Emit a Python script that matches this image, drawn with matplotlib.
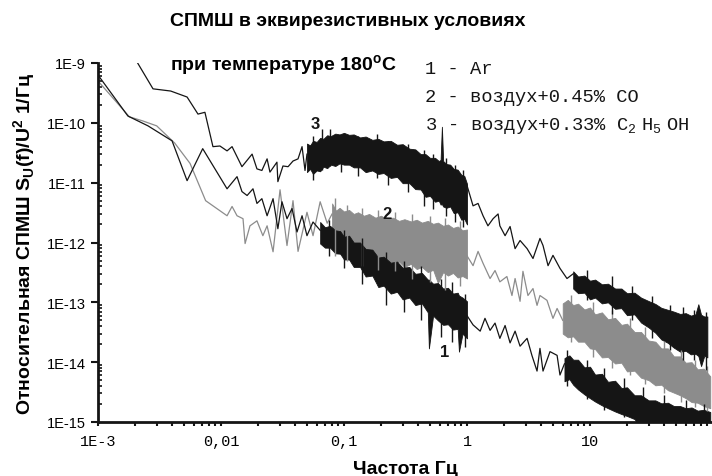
import matplotlib
matplotlib.use("Agg")
import matplotlib.pyplot as plt
from matplotlib.ticker import FixedLocator, FixedFormatter, LogLocator, NullFormatter

# ---------------- data ----------------
# curve 1: Ar
f1_lo = [0.001, 0.00175, 0.00255, 0.0040, 0.0053, 0.0071, 0.0112, 0.0135, 0.0148, 0.0163,
         0.0182, 0.0196, 0.0215, 0.0237, 0.0265, 0.029, 0.0313, 0.0344, 0.0378, 0.0415,
         0.0456, 0.050, 0.056, 0.064]
s1_lo = [6.3e-10, 1.3e-10, 8.9e-11, 5.0e-11, 1.08e-11, 3.7e-11, 7.9e-12, 1.26e-11, 7.1e-12, 6.1e-12,
         7.9e-12, 4.5e-12, 5.4e-12, 2.8e-12, 5.4e-12, 1.7e-12, 4.8e-12, 2.5e-12, 3.7e-12, 1.5e-12,
         2.8e-12, 1.3e-12, 2.2e-12, 1.6e-12]
f1_mid = [0.064, 0.07, 0.077, 0.085, 0.093, 0.10, 0.11, 0.12, 0.135, 0.15, 0.17, 0.19, 0.21, 0.24,
          0.27, 0.30, 0.34, 0.38, 0.43, 0.48, 0.49, 0.53, 0.58, 0.64, 0.70, 0.77, 0.84, 0.86, 0.92, 1.0]
s1_mid_hi = [2.2e-12, 1.8e-12, 1.9e-12, 1.6e-12, 1.55e-12, 1.25e-12, 1.3e-12, 1.0e-12, 1.0e-12, 7.8e-13,
             7.6e-13, 5.6e-13, 5.8e-13, 4.6e-13, 4.8e-13, 3.8e-13, 3.9e-13, 3.0e-13, 3.1e-13, 2.4e-13,
             2.4e-13, 2.05e-13, 2.1e-13, 1.7e-13, 1.75e-13, 1.4e-13, 1.45e-13, 1.3e-13, 1.2e-13, 1.04e-13]
s1_mid_lo = [9.6e-13, 8.2e-13, 8.2e-13, 6.6e-13, 6.5e-13, 5.2e-13, 5.2e-13, 3.9e-13, 3.9e-13, 2.7e-13,
             2.8e-13, 1.8e-13, 1.9e-13, 1.4e-13, 1.5e-13, 1.12e-13, 1.2e-13, 9.0e-14, 9.6e-14, 6.8e-14,
             1.7e-14, 6.0e-14, 5.0e-14, 4.2e-14, 4.3e-14, 3.5e-14, 3.6e-14, 1.5e-14, 3.0e-14, 2.5e-14]
f1_tr = [1.0, 1.12, 1.28, 1.40, 1.54, 1.69, 1.85, 2.04, 2.24, 2.46, 2.70, 3.08, 3.37, 3.71, 3.92,
         4.15, 4.73, 5.40, 5.70, 6.2]
s1_tr = [6.0e-14, 4.2e-14, 3.3e-14, 5.4e-14, 3.4e-14, 4.5e-14, 2.5e-14, 4.1e-14, 2.1e-14, 3.3e-14,
         1.85e-14, 2.5e-14, 1.3e-14, 7.1e-15, 1.7e-14, 7.1e-15, 1.5e-14, 1.3e-14, 6.1e-15, 9.4e-15]
f1_hf = [6.2, 6.8, 7.3, 8.0, 9.0, 10, 11, 12.5, 14, 16, 18, 20, 23, 26, 30, 34, 38, 43, 48, 54,
         60, 67, 75, 84, 95]
s1_hf_hi = [1.17e-14, 1.3e-14, 1.1e-14, 1.1e-14, 8.2e-15, 8.4e-15, 6.2e-15, 6.4e-15, 4.7e-15, 4.9e-15,
            3.7e-15, 3.8e-15, 2.8e-15, 2.8e-15, 2.3e-15, 2.3e-15, 2.05e-15, 2.1e-15, 1.85e-15, 1.85e-15,
            1.7e-15, 1.75e-15, 1.55e-15, 1.6e-15, 1.47e-15]
s1_hf_lo = [4.8e-15, 5.2e-15, 4.2e-15, 3.5e-15, 2.9e-15, 2.5e-15, 2.2e-15, 1.9e-15, 1.7e-15, 1.5e-15,
            1.36e-15, 1.26e-15, 1.12e-15, 8e-16, 8e-16, 8e-16, 8e-16, 8e-16, 8e-16, 8e-16,
            8e-16, 8e-16, 8e-16, 8e-16, 8e-16]
# single spikes sticking out of the dense parts of curve 1
k1_f = [0.075, 0.10, 0.14, 0.22, 0.31, 0.42, 0.62, 0.75, 0.97,
        6.5, 9.5, 13, 19, 27, 40, 60, 85]
k1_top = [2.4e-12, 1.6e-12, 1.2e-12, 7.0e-13, 5.0e-13, 4.0e-13, 2.5e-13, 2.2e-13, 1.4e-13,
          1.6e-14, 1.1e-14, 8.0e-15, 5.5e-15, 3.8e-15, 2.8e-15, 2.3e-15, 2.0e-15]
k1_bot = [6.0e-13, 3.8e-13, 2.0e-13, 9.0e-14, 7.0e-14, 5.0e-14, 2.6e-14, 2.2e-14, 1.8e-14,
          4.0e-15, 2.4e-15, 1.6e-15, 1.2e-15, 8e-16, 8e-16, 8e-16, 8e-16]

# curve 2: air + 0.45% CO
f2_lo = [0.001, 0.0018, 0.0023, 0.0030, 0.0042, 0.0056, 0.0075, 0.0112, 0.0123, 0.0135, 0.0151,
         0.0157, 0.0172, 0.0196, 0.0219, 0.0237, 0.0265, 0.0302, 0.0344, 0.0385, 0.0423, 0.050,
         0.056, 0.064, 0.073, 0.080]
s2_lo = [5.0e-10, 1.26e-10, 1.08e-10, 8.9e-11, 4.6e-11, 2.1e-11, 5.0e-12, 2.8e-12, 4.0e-12, 2.8e-12, 2.5e-12,
         9.6e-13, 1.9e-12, 2.3e-12, 1.3e-12, 1.9e-12, 7.0e-13, 7.6e-12, 8.9e-13, 5.0e-12, 7.1e-13, 3.2e-12,
         1.3e-12, 4.8e-12, 2.1e-12, 3.0e-12]
f2_mid = [0.080, 0.086, 0.092, 0.10, 0.11, 0.12, 0.13, 0.145, 0.16, 0.18, 0.20, 0.22, 0.25, 0.28,
          0.31, 0.35, 0.39, 0.43, 0.48, 0.53, 0.58, 0.64, 0.70, 0.77, 0.84, 0.92, 1.0]
s2_mid_hi = [4.5e-12, 3.4e-12, 3.8e-12, 3.3e-12, 3.5e-12, 3.0e-12, 3.2e-12, 2.8e-12, 3.0e-12, 2.6e-12,
             2.8e-12, 2.5e-12, 2.6e-12, 2.3e-12, 2.45e-12, 2.25e-12, 2.4e-12, 2.15e-12, 2.3e-12, 2.05e-12,
             2.15e-12, 1.9e-12, 2.0e-12, 1.75e-12, 1.85e-12, 1.6e-12, 1.65e-12]
s2_mid_lo = [7.9e-13, 9.5e-13, 7.8e-13, 8.5e-13, 7.0e-13, 7.5e-13, 6.2e-13, 6.8e-13, 5.4e-13, 5.8e-13,
             4.8e-13, 5.2e-13, 4.5e-13, 4.8e-13, 3.9e-13, 4.4e-13, 3.6e-13, 3.9e-13, 3.2e-13, 3.5e-13,
             2.1e-13, 3.2e-13, 2.8e-13, 3.1e-13, 2.6e-13, 2.75e-13, 2.5e-13]
f2_tr = [1.0, 1.12, 1.23, 1.35, 1.54, 1.69, 1.85, 2.11, 2.32, 2.46, 2.70, 2.85, 3.13, 3.44, 3.71,
         3.92, 4.47, 5.0, 5.4, 6.0]
s2_tr = [6.0e-13, 4.1e-13, 7.1e-13, 4.5e-13, 2.5e-13, 3.4e-13, 2.2e-13, 2.7e-13, 1.3e-13, 2.5e-13,
         1.04e-13, 3.3e-13, 1.3e-13, 1.7e-13, 8.9e-14, 1.3e-13, 1.08e-13, 5.4e-14, 7.9e-14, 5.0e-14]
f2_hf = [6.0, 6.6, 7.3, 8.0, 9.0, 10, 11, 12.5, 14, 16, 18, 20, 23, 26, 30, 34, 38, 43, 48, 54,
         60, 67, 75, 84, 95]
s2_hf_hi = [9.6e-14, 1.1e-13, 9.0e-14, 9.5e-14, 7.6e-14, 8.2e-14, 6.3e-14, 6.8e-14, 5.2e-14, 5.5e-14,
            4.2e-14, 4.4e-14, 3.2e-14, 3.2e-14, 2.3e-14, 2.2e-14, 1.7e-14, 1.7e-14, 1.25e-14, 1.25e-14,
            9.8e-15, 1.0e-14, 7.6e-15, 7.8e-15, 5.8e-15]
s2_hf_lo = [3.0e-14, 2.6e-14, 2.7e-14, 2.2e-14, 2.2e-14, 1.7e-14, 1.65e-14, 1.2e-14, 1.22e-14, 9.5e-15,
            9.8e-15, 7.0e-15, 7.2e-15, 5.5e-15, 5.0e-15, 4.1e-15, 4.2e-15, 3.4e-15, 3.1e-15, 2.8e-15,
            2.5e-15, 2.15e-15, 2.1e-15, 1.85e-15, 1.7e-15]
k2_f = [0.085, 0.105, 0.14, 0.19, 0.26, 0.36, 0.50, 0.66, 0.88,
        7.0, 10.5, 15, 21, 28, 40, 55, 72, 90]
k2_top = [5.5e-12, 4.3e-12, 3.8e-12, 3.5e-12, 3.2e-12, 3.0e-12, 2.8e-12, 2.6e-12, 2.3e-12,
          1.35e-13, 1.0e-13, 7.5e-14, 5.5e-14, 3.8e-14, 2.3e-14, 1.6e-14, 1.1e-14, 8.5e-15]
k2_bot = [6.0e-13, 5.0e-13, 4.0e-13, 3.5e-13, 3.3e-13, 2.5e-13, 2.2e-13, 1.6e-13, 1.9e-13,
          2.2e-14, 1.2e-14, 8.0e-15, 6.0e-15, 4.3e-15, 3.0e-15, 2.2e-15, 1.8e-15, 1.5e-15]

# curve 3: air + 0.33% C2H5OH
f3_lo = [0.0021, 0.0028, 0.0039, 0.0053, 0.0065, 0.0074, 0.0086, 0.0098, 0.0112, 0.0123, 0.0148,
         0.0179, 0.0196, 0.0215, 0.0237, 0.025, 0.0285, 0.029, 0.0319, 0.0351, 0.0385, 0.0423,
         0.0456, 0.0482, 0.050]
s3_lo = [1.0e-9, 3.7e-10, 3.4e-10, 2.7e-10, 1.4e-10, 1.5e-10, 4.0e-11, 4.1e-11, 3.4e-11, 4.0e-11, 1.85e-11,
         3.0e-11, 1.7e-11, 1.6e-11, 2.5e-11, 1.5e-11, 2.2e-11, 1.04e-11, 1.9e-11, 1.85e-11, 2.3e-11, 2.5e-11,
         4.0e-11, 1.6e-11, 3.0e-11]
f3_mid = [0.050, 0.053, 0.056, 0.060, 0.064, 0.068, 0.073, 0.078, 0.085, 0.092, 0.10, 0.11, 0.12,
          0.135, 0.15, 0.17, 0.19, 0.21, 0.24, 0.27, 0.30, 0.34, 0.38, 0.42, 0.46, 0.50, 0.55, 0.59,
          0.61, 0.625, 0.64, 0.68, 0.73, 0.78, 0.84, 0.90, 0.95, 1.0]
s3_mid_hi = [4.5e-11, 4.2e-11, 5.0e-11, 4.8e-11, 5.6e-11, 5.4e-11, 6.2e-11, 6.0e-11, 6.6e-11, 6.4e-11,
             6.8e-11, 6.3e-11, 6.4e-11, 5.7e-11, 5.9e-11, 5.2e-11, 5.4e-11, 4.9e-11, 5.0e-11, 4.3e-11,
             4.4e-11, 3.7e-11, 3.6e-11, 3.0e-11, 3.0e-11, 2.6e-11, 2.6e-11, 2.3e-11, 2.4e-11, 8.6e-11,
             2.3e-11, 2.05e-11, 2.0e-11, 1.7e-11, 1.65e-11, 1.35e-11, 1.3e-11, 9.6e-12]
s3_mid_lo = [1.5e-11, 1.7e-11, 1.4e-11, 1.6e-11, 1.55e-11, 1.85e-11, 1.75e-11, 2.0e-11, 1.9e-11, 2.1e-11,
             2.0e-11, 2.0e-11, 1.8e-11, 1.8e-11, 1.5e-11, 1.6e-11, 1.4e-11, 1.45e-11, 1.2e-11, 1.25e-11,
             9.8e-12, 9.8e-12, 7.8e-12, 7.7e-12, 5.8e-12, 6.0e-12, 4.8e-12, 5.0e-12, 4.3e-12, 4.4e-12,
             4.0e-12, 3.8e-12, 4.0e-12, 3.1e-12, 3.2e-12, 2.4e-12, 2.5e-12, 2.0e-12]
f3_tr = [1.0, 1.12, 1.23, 1.35, 1.48, 1.63, 1.79, 1.85, 2.04, 2.24, 2.46, 2.70, 3.08, 3.44, 3.92,
         4.15, 4.56, 5.0, 5.7, 6.5, 7.3]
s3_tr = [9.0e-12, 4.1e-12, 4.5e-12, 2.8e-12, 1.9e-12, 2.5e-12, 3.0e-12, 1.9e-12, 1.3e-12, 1.85e-12,
         7.9e-13, 1.08e-12, 7.9e-13, 5.4e-13, 1.17e-12, 8.9e-13, 4.1e-13, 6.1e-13, 3.7e-13, 2.5e-13, 3.0e-13]
f3_hf = [7.3, 8.0, 9.0, 10, 11, 12.5, 14, 16, 18, 20, 23, 26, 30, 34, 38, 43, 48, 54, 60, 66,
         72, 76, 80, 85, 90]
s3_hf_hi = [3.3e-13, 2.7e-13, 2.8e-13, 2.3e-13, 2.4e-13, 2.0e-13, 2.05e-13, 1.7e-13, 1.7e-13, 1.42e-13,
            1.45e-13, 1.2e-13, 1.05e-13, 9.4e-14, 8.1e-14, 7.5e-14, 7.0e-14, 6.4e-14, 6.6e-14, 6.0e-14,
            6.3e-14, 9.3e-14, 6.2e-14, 5.8e-14, 5.8e-14]
s3_hf_lo = [1.7e-13, 1.42e-13, 1.45e-13, 1.12e-13, 1.2e-13, 9.6e-14, 1.0e-13, 7.8e-14, 8.0e-14, 6.1e-14,
            6.3e-14, 4.6e-14, 3.8e-14, 3.1e-14, 2.4e-14, 2.1e-14, 1.75e-14, 1.5e-14, 1.55e-14, 1.35e-14,
            1.38e-14, 1.27e-14, 8.6e-15, 1.28e-14, 1.2e-14]
k3_f = [0.056, 0.066, 0.077, 0.095, 0.13, 0.185, 0.23, 0.33, 0.45, 0.53, 0.68, 0.80, 0.93,
        9.5, 15, 22, 32, 45, 57, 70, 88]
k3_top = [6.0e-11, 7.8e-11, 8.0e-11, 5.0e-11, 6.0e-11, 6.5e-11, 5.0e-11, 4.5e-11, 3.5e-11, 3.0e-11,
          2.6e-11, 2.0e-11, 1.6e-11,
          3.5e-13, 2.8e-13, 1.9e-13, 1.3e-13, 9.0e-14, 8.5e-14, 7.5e-14, 7.0e-14]
k3_bot = [1.1e-11, 1.6e-11, 1.9e-11, 1.5e-11, 1.3e-11, 1.2e-11, 9.0e-12, 7.0e-12, 4.0e-12, 3.6e-12,
          2.8e-12, 2.2e-12, 1.8e-12,
          1.1e-13, 6.5e-14, 5.0e-14, 2.5e-14, 1.6e-14, 1.1e-14, 1.1e-14, 7.5e-15]

# axis ticks and labels
x_ticks = [1e-3, 1e-2, 1e-1, 1, 10]
x_ticklabels = ["1E-3", "0,01", "0,1", "1", "10"]
y_ticks = [1e-15, 1e-14, 1e-13, 1e-12, 1e-11, 1e-10, 1e-9]
y_ticklabels = ["1E-15", "1E-14", "1E-13", "1E-12", "1E-11", "1E-10", "1E-9"]

curve_labels = ["1", "2", "3"]
curve_label_f = [0.66, 0.224, 0.058]
curve_label_s = [1.5e-14, 3.0e-12, 9.6e-11]

legend_lines = ["1 - Ar",
                "2 - воздух+0.45% CO",
                r"3 - воздух+0.33% C$_\mathregular{2}\;$H$_\mathregular{5}\;$OH"]

# ---------------- drawing ----------------
BLACK = "#151515"
GRAY = "#8c8c8c"
NARROW = ["Liberation Sans Narrow", "Liberation Sans", "DejaVu Sans"]
SANS = ["Liberation Sans", "DejaVu Sans"]
MONO = ["Liberation Mono", "DejaVu Sans Mono"]

fig = plt.figure(figsize=(7.12, 4.77), dpi=100)
ax = fig.add_axes([98 / 712, 1 - 423 / 477, (713 - 98) / 712, (423 - 64) / 477])
ax.set_xscale("log")
ax.set_yscale("log")
ax.set_xlim(1e-3, 100)
ax.set_ylim(1e-15, 1e-9)


def draw_curve(color, f_lo, s_lo, f_mid, s_mid_lo, s_mid_hi, f_tr, s_tr, f_hf, s_hf_lo, s_hf_hi,
               k_f, k_bot, k_top):
    ax.plot(f_lo, s_lo, color=color, lw=0.9)
    ax.fill_between(f_mid, s_mid_lo, s_mid_hi, color=color, lw=0.6)
    ax.plot(f_tr, s_tr, color=color, lw=0.9)
    ax.fill_between(f_hf, s_hf_lo, s_hf_hi, color=color, lw=0.6)
    ax.vlines(k_f, k_bot, k_top, color=color, lw=1.0)


draw_curve(GRAY, f2_lo, s2_lo, f2_mid, s2_mid_lo, s2_mid_hi, f2_tr, s2_tr, f2_hf, s2_hf_lo, s2_hf_hi,
           k2_f, k2_bot, k2_top)
draw_curve(BLACK, f1_lo, s1_lo, f1_mid, s1_mid_lo, s1_mid_hi, f1_tr, s1_tr, f1_hf, s1_hf_lo, s1_hf_hi,
           k1_f, k1_bot, k1_top)
draw_curve(BLACK, f3_lo, s3_lo, f3_mid, s3_mid_lo, s3_mid_hi, f3_tr, s3_tr, f3_hf, s3_hf_lo, s3_hf_hi,
           k3_f, k3_bot, k3_top)

for lab, fx, sy in zip(curve_labels, curve_label_f, curve_label_s):
    ax.text(fx, sy, lab, family=SANS, fontweight="bold", fontsize=12,
            ha="center", va="center", color=BLACK)

# axes styling
for side in ("top", "right"):
    ax.spines[side].set_visible(False)
for side in ("left", "bottom"):
    ax.spines[side].set_linewidth(2.0)
    ax.spines[side].set_color(BLACK)

ax.xaxis.set_major_locator(FixedLocator(x_ticks))
ax.xaxis.set_major_formatter(FixedFormatter(x_ticklabels))
ax.xaxis.set_minor_locator(LogLocator(base=10, subs=range(2, 10), numticks=20))
ax.xaxis.set_minor_formatter(NullFormatter())
ax.yaxis.set_major_locator(FixedLocator(y_ticks))
ax.yaxis.set_major_formatter(FixedFormatter(y_ticklabels))
ax.yaxis.set_minor_locator(LogLocator(base=10, subs=range(2, 10), numticks=20))
ax.yaxis.set_minor_formatter(NullFormatter())

ax.tick_params(axis="x", which="both", direction="out", length=3, width=1.5, color=BLACK, pad=6)
ax.tick_params(axis="y", which="major", direction="out", length=5, width=1.5, color=BLACK, pad=4)
ax.tick_params(axis="y", which="minor", direction="in", length=3, width=1.2, color=BLACK)
for t in ax.get_xticklabels():
    t.set_family(MONO)
    t.set_fontsize(11)
for t in ax.get_yticklabels():
    t.set_family(SANS)
    t.set_fontsize(10.5)

ax.set_xlabel("Частота Гц", family=NARROW, fontweight="bold", fontsize=14, labelpad=8)
ax.set_ylabel(r"Относительная СПМШ S$_\mathregular{U}$(f)/U$^\mathregular{2}$ 1/Гц",
              family=NARROW, fontweight="bold", fontsize=14, labelpad=6)

# titles
fig.text(170 / 712, 1 - 22 / 477, "СПМШ в эквирезистивных условиях",
         family=NARROW, fontweight="bold", fontsize=14, ha="left", va="center")
fig.text(170 / 712, 1 - 66 / 477, r"при температуре 180$^\mathregular{o}$C",
         family=NARROW, fontweight="bold", fontsize=14, ha="left", va="center")

# legend text
for i, line in enumerate(legend_lines):
    fig.text(425 / 712, 1 - (70 + 28 * i) / 477, line, family=MONO, fontsize=13.5,
             ha="left", va="center", color=BLACK)

fig.savefig("out.png", dpi=100)
